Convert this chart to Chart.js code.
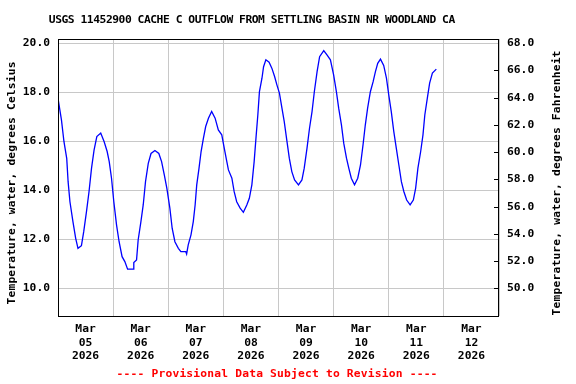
<!DOCTYPE html>
<html>
<head>
<meta charset="utf-8">
<script src="https://cdn.jsdelivr.net/npm/chart.js@4"></script>
<style>
  html, body { margin: 0; padding: 0; background: #fff; }
  #wrap { width: 576px; height: 384px; }
</style>
</head>
<body>
<div id="wrap"><canvas id="tempChart"></canvas></div>
<script>
// -------------------------------
// Data (hours since Mar 05 2026 00:00, water temperature in deg C)
// -------------------------------
const hours = [
  0, 1.5, 2.6, 3.8, 4.4, 5.2, 6.5, 7.7, 8.7, 10.2, 11.2, 12.4, 13.5, 14.6, 15.7, 16.9, 18.6, 20.1, 21.4, 22.3, 23.3,
  24.3, 25.5, 26.6, 27.9, 29.1, 30.3, 32.7, 33.0, 34.2, 34.9, 36.1, 37.1, 38.1, 39.3, 40.5, 42.2, 43.9, 45.1, 46.3, 47.4,
  48.7, 49.7, 50.9, 52.4, 53.5, 55.6, 56.0, 56.7, 57.9, 58.9, 59.7, 60.4, 61.4, 62.3, 63.3, 64.3, 65.5, 66.9, 68.4, 69.8, 71.3,
  72.4, 73.5, 74.2, 75.7, 76.7, 77.8, 79.3, 80.7, 82.2, 83.3, 84.4, 85.4, 86.3, 87.0, 87.7, 88.8, 89.5, 90.5, 91.9, 93.1, 94.3, 95.3,
  96.4, 97.5, 98.5, 99.7, 100.7, 101.8, 103.0, 104.7, 106.2, 107.2, 108.4, 109.5, 110.6, 111.6, 112.8, 113.9, 115.7, 117.1, 118.6,
  120.0, 121.2, 122.2, 123.4, 124.4, 125.6, 126.6, 127.7, 129.1, 130.5, 131.7, 132.8, 133.8, 134.8, 136.0, 137.2, 138.2, 139.2, 140.4, 141.8,
  143.0, 144.0, 145.1, 146.2, 147.3, 148.4, 149.5, 150.6, 151.8, 153.3, 154.7, 155.7, 156.7, 157.9, 158.9, 159.7, 160.8, 161.8, 163.0, 164.7
];
const tempC = [
  17.75, 16.87, 15.98, 15.30, 14.35, 13.53, 12.72, 12.04, 11.63, 11.74, 12.31, 13.13, 13.94, 14.90, 15.64, 16.19, 16.33, 15.98, 15.58, 15.17, 14.49,
  13.53, 12.58, 11.90, 11.29, 11.09, 10.78, 10.78, 11.05, 11.16, 11.97, 12.72, 13.40, 14.35, 15.10, 15.50, 15.62, 15.50, 15.17, 14.62, 14.08,
  13.27, 12.45, 11.90, 11.63, 11.50, 11.50, 11.40, 11.77, 12.18, 12.72, 13.40, 14.22, 14.90, 15.58, 16.12, 16.60, 16.94, 17.21, 16.94, 16.46, 16.26,
  15.71, 15.17, 14.83, 14.49, 13.94, 13.53, 13.27, 13.10, 13.40, 13.67, 14.22, 15.17, 16.26, 17.07, 18.02, 18.57, 19.04, 19.32, 19.22, 18.98, 18.64, 18.30,
  17.96, 17.35, 16.80, 15.98, 15.31, 14.76, 14.42, 14.22, 14.42, 14.90, 15.71, 16.53, 17.21, 18.02, 18.84, 19.45, 19.70, 19.52, 19.32,
  18.71, 18.02, 17.35, 16.67, 15.92, 15.31, 14.90, 14.49, 14.22, 14.49, 15.03, 15.85, 16.67, 17.35, 18.02, 18.43, 18.84, 19.18, 19.35, 19.09,
  18.57, 17.89, 17.21, 16.39, 15.71, 15.03, 14.35, 13.94, 13.60, 13.40, 13.60, 14.08, 14.90, 15.58, 16.26, 17.07, 17.76, 18.37, 18.78, 18.94
];

// -------------------------------
// Axis labels
// -------------------------------
const dayLabels = ["05", "06", "07", "08", "09", "10", "11", "12"];
const monthLabel = "Mar";
const yearLabel = "2026";
const celsiusTicks = [10, 12, 14, 16, 18, 20];
const fahrenheitTicks = [50, 52, 54, 56, 58, 60, 62, 64, 66, 68];
const cMin = 8.87, cMax = 20.17;

const chartTitle = "USGS 11452900 CACHE C OUTFLOW FROM SETTLING BASIN NR WOODLAND CA";
const leftTitle = "Temperature, water, degrees Celsius";
const rightTitle = "Temperature, water, degrees Fahrenheit";
const footnote = "---- Provisional Data Subject to Revision ----";

// -------------------------------
// Helpers
// -------------------------------
const FONT_FAMILY = "'DejaVu Sans Mono', 'Liberation Mono', monospace";
const FONT_SIZE = 11.3;
const GRID = "#c8c8c8";
const toF = c => c * 1.8 + 32;

const points = hours.map((h, i) => ({ x: h, y: tempC[i] }));

// draw text so it spans a given width by tightening letter spacing
function fitText(ctx, text, x, y, width, angle) {
  ctx.save();
  ctx.font = `bold ${FONT_SIZE}px ${FONT_FAMILY}`;
  const w = ctx.measureText(text).width;
  const ls = (width - w) / text.length;
  ctx.letterSpacing = `${ls.toFixed(3)}px`;
  ctx.translate(x, y);
  if (angle) ctx.rotate(angle);
  ctx.fillText(text, ls / 2, 0);
  ctx.restore();
}

// frame, inner right-axis ticks and free text
const textPlugin = {
  id: "usgsText",
  afterDraw(chart) {
    const { ctx, chartArea: a } = chart;
    ctx.save();
    ctx.strokeStyle = "#000";
    ctx.lineWidth = 1;
    ctx.strokeRect(a.left + 0.5, a.top + 0.5, a.right - a.left - 1, a.bottom - a.top);

    // right axis tick marks point into the plot
    const y2 = chart.scales.y2;
    ctx.beginPath();
    fahrenheitTicks.slice(0, -1).forEach(v => {
      const py = Math.round(y2.getPixelForValue(v)) + 0.5;
      ctx.moveTo(a.right - 5, py);
      ctx.lineTo(a.right, py);
    });
    ctx.stroke();

    ctx.textAlign = "center";
    ctx.textBaseline = "middle";
    ctx.fillStyle = "#000";
    fitText(ctx, chartTitle, 252, 20, 406, 0);
    fitText(ctx, leftTitle, 12, 183, 243, -Math.PI / 2);
    fitText(ctx, rightTitle, 557, 183, 265, -Math.PI / 2);
    ctx.fillStyle = "#ff0000";
    fitText(ctx, footnote, 277, 374, 321, 0);
    ctx.restore();
  }
};

// -------------------------------
// Chart.js Setup
// -------------------------------
const tickFont = { family: FONT_FAMILY, size: FONT_SIZE, weight: "bold", lineHeight: 1.16 };

new Chart(document.getElementById("tempChart"), {
  type: "line",
  data: {
    datasets: [{
      data: points,
      borderColor: "#0000ff",
      borderWidth: 1.3,
      pointRadius: 0,
      tension: 0,
      fill: false
    }]
  },
  options: {
    responsive: true,
    maintainAspectRatio: false,
    animation: false,
    devicePixelRatio: 1,
    layout: { padding: { top: 39, left: 0, right: 0, bottom: 0 } },
    plugins: {
      legend: { display: false },
      tooltip: { enabled: false },
      title: { display: false }
    },
    scales: {
      x: {
        type: "linear",
        min: 0,
        max: 192,
        afterFit: s => { s.height = 68; },
        afterBuildTicks: s => {
          s.ticks = [];
          for (let v = 0; v <= 192; v += 12) s.ticks.push({ value: v });
        },
        grid: {
          drawTicks: false,
          color: c => (c.tick && c.tick.value % 24 === 0) ? GRID : "rgba(0,0,0,0)",
          lineWidth: 1
        },
        border: { display: false },
        ticks: {
          autoSkip: false,
          maxRotation: 0,
          padding: 7,
          color: "#000",
          font: tickFont,
          callback: v => {
            if (v % 24 !== 12) return "";
            return [monthLabel, dayLabels[(v - 12) / 24], yearLabel];
          }
        }
      },
      y: {
        position: "left",
        min: cMin,
        max: cMax,
        afterFit: s => { s.width = 58; },
        afterBuildTicks: s => { s.ticks = celsiusTicks.map(v => ({ value: v })); },
        grid: { drawTicks: false, color: GRID },
        border: { display: false },
        ticks: {
          padding: 8,
          color: "#000",
          font: tickFont,
          callback: v => Number(v).toFixed(1)
        }
      },
      y2: {
        position: "right",
        min: toF(cMin),
        max: toF(cMax),
        afterFit: s => { s.width = 77; },
        afterBuildTicks: s => { s.ticks = fahrenheitTicks.map(v => ({ value: v })); },
        grid: { drawOnChartArea: false, drawTicks: false },
        border: { display: false },
        ticks: {
          padding: 8,
          color: "#000",
          font: tickFont,
          callback: v => Number(v).toFixed(1)
        }
      }
    }
  },
  plugins: [textPlugin]
});
</script>
</body>
</html>
